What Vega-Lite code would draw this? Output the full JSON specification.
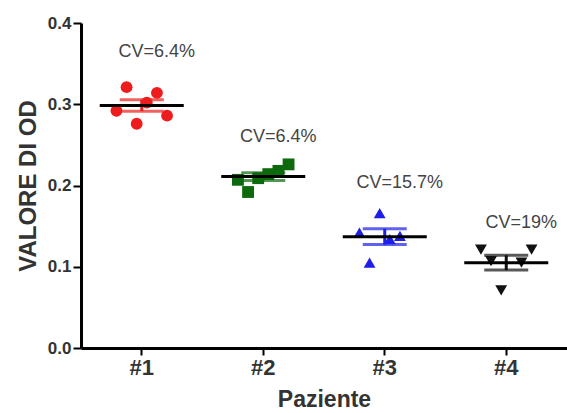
{
  "$schema": "https://vega.github.io/schema/vega-lite/v6.json",
  "width": 486,
  "height": 325,
  "autosize": {"type": "none"},
  "padding": {"left": 81, "top": 23, "right": 0, "bottom": 65},
  "background": "white",
  "config": {
    "view": {"stroke": null},
    "font": "Liberation Sans",
    "axis": {"grid": false, "domainColor": "#000", "tickColor": "#000", "labelColor": "#333", "titleColor": "#333", "labelFont": "Liberation Sans", "titleFont": "Liberation Sans", "labelFontWeight": "bold", "titleFontWeight": "bold"}
  },
  "datasets": {
    "pts": [
      {"group": "#1", "rep": 2, "od": 0.321},
      {"group": "#1", "rep": 5, "od": 0.314},
      {"group": "#1", "rep": 4, "od": 0.302},
      {"group": "#1", "rep": 1, "od": 0.292},
      {"group": "#1", "rep": 6, "od": 0.286},
      {"group": "#1", "rep": 3, "od": 0.276},
      {"group": "#2", "rep": 6, "od": 0.226},
      {"group": "#2", "rep": 5, "od": 0.218},
      {"group": "#2", "rep": 4, "od": 0.214},
      {"group": "#2", "rep": 3, "od": 0.209},
      {"group": "#2", "rep": 1, "od": 0.207},
      {"group": "#2", "rep": 2, "od": 0.192},
      {"group": "#3", "rep": 3, "od": 0.166},
      {"group": "#3", "rep": 1, "od": 0.142},
      {"group": "#3", "rep": 5, "od": 0.138},
      {"group": "#3", "rep": 4, "od": 0.134},
      {"group": "#3", "rep": 2, "od": 0.105},
      {"group": "#4", "rep": 1, "od": 0.121},
      {"group": "#4", "rep": 6, "od": 0.121},
      {"group": "#4", "rep": 2, "od": 0.107},
      {"group": "#4", "rep": 5, "od": 0.105},
      {"group": "#4", "rep": 3, "od": 0.071}
    ],
    "cv": [
      {"group": "#1", "label": "CV=6.4%", "ypos": 0.364},
      {"group": "#2", "label": "CV=6.4%", "ypos": 0.26},
      {"group": "#3", "label": "CV=15.7%", "ypos": 0.203},
      {"group": "#4", "label": "CV=19%", "ypos": 0.154}
    ]
  },
  "encoding": {
    "x": {
      "field": "group", "type": "nominal",
      "scale": {"domain": ["#1", "#2", "#3", "#4"], "paddingInner": 0.5, "paddingOuter": 0.25},
      "axis": {"title": "Paziente", "labelAngle": 0, "labelFontSize": 22, "titleFontSize": 23, "domainWidth": 3, "tickWidth": 2, "tickSize": 7, "labelPadding": 2, "titlePadding": 10}
    }
  },
  "layer": [
    {
      "data": {"name": "pts"},
      "mark": {"type": "errorbar", "extent": "stderr", "thickness": 3, "ticks": {"size": 44}},
      "encoding": {
        "y": {"field": "od", "type": "quantitative",
          "scale": {"domain": [0, 0.4]},
          "axis": {"title": "VALORE DI OD", "values": [0, 0.1, 0.2, 0.3, 0.4], "format": ".1f", "labelFontSize": 17, "titleFontSize": 24, "domainWidth": 3, "tickWidth": 2, "tickSize": 8, "labelPadding": 2, "titlePadding": 7}},
        "color": {"field": "group", "type": "nominal", "legend": null,
          "scale": {"domain": ["#1", "#2", "#3", "#4"], "range": ["#ee1c1c", "#0c6a0c", "#1e1ee8", "#111111"]}}
      }
    },
    {
      "data": {"name": "pts"},
      "mark": {"type": "point", "filled": true, "opacity": 1, "size": 140},
      "encoding": {
        "y": {"field": "od", "type": "quantitative"},
        "xOffset": {"field": "rep", "type": "nominal", "scale": {"domain": [1, 2, 3, 4, 5, 6]}},
        "color": {"field": "group", "type": "nominal"},
        "shape": {"field": "group", "type": "nominal", "legend": null,
          "scale": {"domain": ["#1", "#2", "#3", "#4"], "range": ["circle", "square", "triangle-up", "triangle-down"]}}
      }
    },
    {
      "data": {"name": "pts"},
      "mark": {"type": "tick", "color": "#000", "thickness": 3, "size": 84, "orient": "horizontal"},
      "encoding": {
        "y": {"field": "od", "type": "quantitative", "aggregate": "mean"}
      }
    },
    {
      "data": {"name": "cv"},
      "mark": {"type": "text", "fontSize": 18, "color": "#444", "dx": 15, "font": "Liberation Sans"},
      "encoding": {
        "y": {"field": "ypos", "type": "quantitative"},
        "text": {"field": "label"}
      }
    }
  ]
}
